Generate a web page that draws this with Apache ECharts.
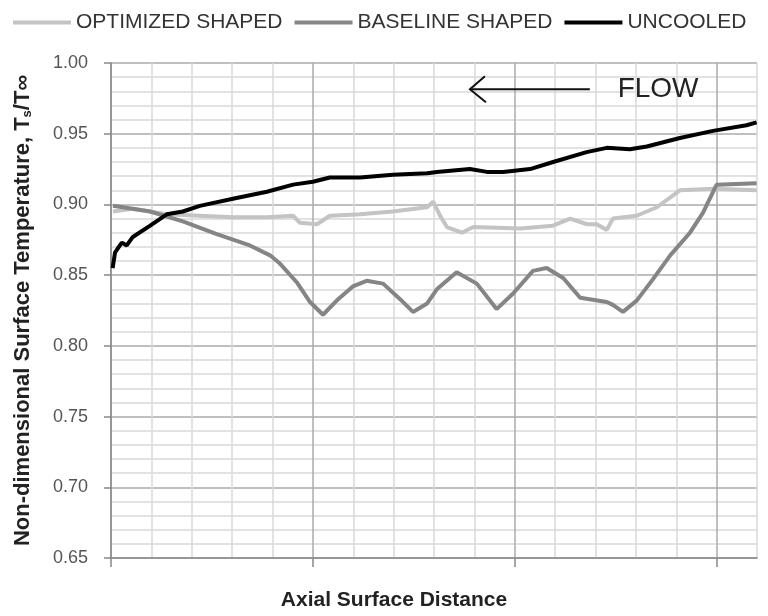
<!DOCTYPE html>
<html>
<head>
<meta charset="utf-8">
<script src="https://cdn.jsdelivr.net/npm/echarts@6/dist/echarts.min.js"></script>
<style>
html,body{margin:0;padding:0;background:#fff;}
#chart{width:768px;height:616px;}
</style>
</head>
<body>
<div id="chart"></div>
<script>
// ---- data ----
var seriesNames = ['OPTIMIZED SHAPED', 'BASELINE SHAPED', 'UNCOOLED'];

var optimizedX = [0.05, 0.54, 1.38, 2.20, 3.02, 3.86, 4.51, 4.68, 5.10, 5.42, 6.17, 6.98, 7.83, 7.98, 8.15, 8.32, 8.69, 8.97, 10.13, 10.95, 11.37, 11.79, 12.03, 12.28, 12.43, 13.02, 13.52, 14.09, 14.91, 15.99];
var optimizedY = [0.895, 0.897, 0.893, 0.892, 0.891, 0.891, 0.892, 0.887, 0.886, 0.892, 0.893, 0.895, 0.898, 0.902, 0.892, 0.884, 0.880, 0.884, 0.883, 0.885, 0.890, 0.886, 0.886, 0.882, 0.890, 0.892, 0.898, 0.910, 0.911, 0.910];

var baselineX = [0.05, 0.97, 1.78, 2.62, 3.44, 3.94, 4.19, 4.60, 4.93, 5.25, 5.59, 5.99, 6.33, 6.74, 7.16, 7.48, 7.83, 8.07, 8.56, 9.06, 9.55, 9.96, 10.45, 10.79, 11.20, 11.62, 12.28, 12.43, 12.68, 13.02, 13.42, 13.85, 14.34, 14.66, 15.00, 15.99];
var baselineY = [0.899, 0.895, 0.888, 0.879, 0.871, 0.864, 0.858, 0.845, 0.831, 0.822, 0.832, 0.842, 0.846, 0.844, 0.833, 0.824, 0.830, 0.840, 0.852, 0.844, 0.826, 0.837, 0.853, 0.855, 0.848, 0.834, 0.831, 0.829, 0.824, 0.832, 0.847, 0.864, 0.880, 0.894, 0.914, 0.915];

var uncooledX = [0.04, 0.10, 0.17, 0.27, 0.39, 0.54, 0.97, 1.38, 1.78, 2.20, 3.02, 3.86, 4.51, 5.00, 5.42, 6.17, 6.98, 7.83, 8.07, 8.89, 9.31, 9.71, 10.38, 10.95, 11.78, 12.28, 12.85, 13.27, 14.09, 14.91, 15.74, 15.99];
var uncooledY = [0.855, 0.866, 0.869, 0.873, 0.871, 0.877, 0.885, 0.893, 0.895, 0.899, 0.904, 0.909, 0.914, 0.916, 0.919, 0.919, 0.921, 0.922, 0.923, 0.925, 0.923, 0.923, 0.925, 0.930, 0.937, 0.940, 0.939, 0.941, 0.947, 0.952, 0.956, 0.958];

var yTickValues = [0.65, 0.70, 0.75, 0.80, 0.85, 0.90, 0.95, 1.00];
var xMajorTicks = [0, 5, 10, 15];

// annotation: arrow pointing against x (flow direction), in data coordinates
var flowArrowX = [11.86, 8.89];
var flowArrowY = 0.9814;
var flowLabelX = 13.55;
var flowLabel = 'FLOW';

function pairs(xs, ys) { return xs.map(function (x, i) { return [x, ys[i]]; }); }

var minorCol = '#d9d9d9', majorCol = '#ababab';
var FF = 'Liberation Sans, Arial, sans-serif';
var chart = echarts.init(document.getElementById('chart'));
var option = {
  animation: false,
  backgroundColor: '#ffffff',
  textStyle: { fontFamily: FF },
  legend: {
    top: 7, left: 8,
    icon: 'rect', itemWidth: 58, itemHeight: 4, itemGap: 12,
    textStyle: { fontSize: 21, color: '#333', fontFamily: FF },
    data: seriesNames
  },
  grid: { left: 111, right: 11, top: 63, bottom: 45 },
  xAxis: [{
    type: 'value', min: 0, max: 16, interval: 1, position: 'bottom',
    axisLine: { show: false }, axisTick: { show: false }, axisLabel: { show: false },
    splitLine: { show: true, lineStyle: { width: 1.5, color: [majorCol, minorCol, minorCol, minorCol, minorCol] } }
  }, {
    type: 'value', min: 0, max: 16, interval: 5, position: 'bottom',
    name: 'Axial Surface Distance', nameLocation: 'middle', nameGap: 32,
    nameTextStyle: { fontSize: 21, fontWeight: 'bold', color: '#222', padding: [0, 80, 0, 0] },
    axisLine: { show: true, lineStyle: { color: '#888', width: 1.5 } },
    axisTick: { show: true, customValues: xMajorTicks, length: 9, lineStyle: { color: '#888', width: 1.5 } },
    axisLabel: { show: false },
    splitLine: { show: false }
  }],
  yAxis: [{
    type: 'value', min: 0.65, max: 1.00, interval: 0.01, position: 'left',
    axisLine: { show: false }, axisTick: { show: false }, axisLabel: { show: false },
    splitLine: { show: true, lineStyle: { width: 1.5, color: [majorCol, minorCol, minorCol, minorCol, minorCol] } }
  }, {
    type: 'value', min: 0.65, max: 1.00, interval: 0.05, position: 'left',
    name: '{t|Non-dimensional Surface Temperature, T}{s|s}{t|/T\u221E}',
    nameLocation: 'middle', nameGap: 77, nameRotate: 90,
    nameTextStyle: {
      rich: {
        t: { fontSize: 22, fontWeight: 'bold', color: '#222', fontFamily: FF },
        s: { fontSize: 13, fontWeight: 'bold', color: '#222', verticalAlign: 'bottom', padding: [8, 0, 0, 0], fontFamily: FF }
      }
    },
    axisLine: { show: true, lineStyle: { color: '#888', width: 1.5 } },
    axisTick: { show: true, customValues: yTickValues, length: 7, lineStyle: { color: '#888', width: 1.5 } },
    axisLabel: {
      show: true, customValues: yTickValues, margin: 23, fontSize: 18, color: '#555',
      formatter: function (v) { return v.toFixed(2); }
    },
    splitLine: { show: false }
  }],
  series: [
    { name: seriesNames[0], type: 'line', xAxisIndex: 0, yAxisIndex: 0, showSymbol: false, data: pairs(optimizedX, optimizedY),
      lineStyle: { color: '#c4c4c4', width: 4 }, itemStyle: { color: '#c4c4c4' }, z: 3 },
    { name: seriesNames[1], type: 'line', xAxisIndex: 0, yAxisIndex: 0, showSymbol: false, data: pairs(baselineX, baselineY),
      lineStyle: { color: '#858585', width: 4 }, itemStyle: { color: '#858585' }, z: 4 },
    { name: seriesNames[2], type: 'line', xAxisIndex: 0, yAxisIndex: 0, showSymbol: false, data: pairs(uncooledX, uncooledY),
      lineStyle: { color: '#000000', width: 4 }, itemStyle: { color: '#000000' }, z: 5 }
  ]
};
chart.setOption(option);

var p0 = chart.convertToPixel({ gridIndex: 0 }, [flowArrowX[0], flowArrowY]);
var p1 = chart.convertToPixel({ gridIndex: 0 }, [flowArrowX[1], flowArrowY]);
var pl = chart.convertToPixel({ gridIndex: 0 }, [flowLabelX, flowArrowY]);
chart.setOption({
  graphic: [
    { type: 'line', shape: { x1: p0[0], y1: p0[1], x2: p1[0], y2: p1[1] }, style: { stroke: '#111', lineWidth: 2 }, z: 10 },
    { type: 'polyline', shape: { points: [[p1[0] + 15, p1[1] - 13], [p1[0], p1[1]], [p1[0] + 16, p1[1] + 13]] }, style: { stroke: '#111', lineWidth: 2, fill: null }, z: 10 },
    { type: 'text', x: pl[0], y: pl[1], style: { text: flowLabel, fontSize: 28, fill: '#222', align: 'center', verticalAlign: 'middle', fontFamily: FF }, z: 10 }
  ]
});
</script>
</body>
</html>
